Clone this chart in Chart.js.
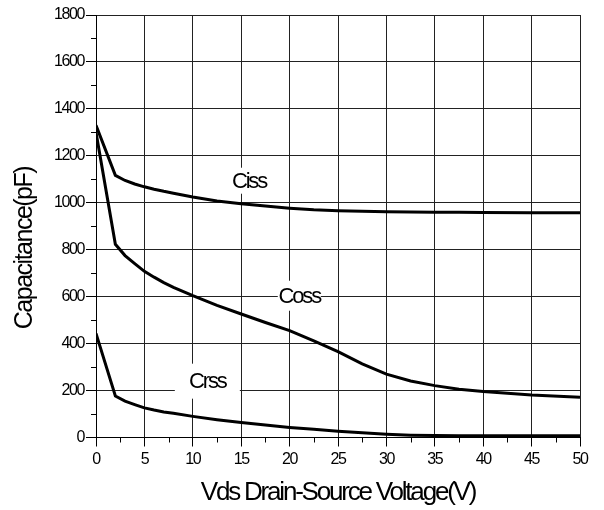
<!DOCTYPE html>
<html>
<head>
<meta charset="utf-8">
<script src="https://cdn.jsdelivr.net/npm/chart.js@4"></script>
<style>
  html, body { margin: 0; padding: 0; background: #fff; }
  #wrap { width: 604px; height: 510px; }
</style>
</head>
<body>
<div id="wrap"><canvas id="grafico" width="604" height="510"></canvas></div>
<script>
// Vds (V) e capacitancias
const voltagem = [0, 2, 3, 4, 5, 6, 7, 8, 10, 12.5, 15, 17.5, 20, 22.5, 25, 27.5, 30, 32.5, 35, 37.5, 40, 45, 50];
const ciss = [1330, 1117, 1095, 1080, 1068, 1058, 1049, 1041, 1025, 1008, 996, 986, 977, 970, 966, 964, 962, 961, 960, 960, 959, 958, 958];
const coss = [1300, 823, 775, 741, 708, 683, 660, 640, 604, 563, 526, 490, 455, 412, 366, 314, 270, 241, 221, 206, 196, 181, 171];
const crss = [443, 177, 155, 140, 126, 117, 109, 103, 90, 76, 64, 53, 43, 35, 27, 20, 14, 10, 8, 7, 7, 7, 7];

const nomesCurvas = ['Ciss', 'Coss', 'Crss'];
// posicao dos rotulos em unidades do grafico (V, pF)
const rotulos = [
  { texto: 'Ciss', v: 15.8, c: 1094, w: 42, h: 26 },
  { texto: 'Coss', v: 21.0, c: 604, w: 43, h: 30 },
  { texto: 'Crss', v: 11.5, c: 240, w: 65, h: 35 }
];

const fonte = "'Liberation Sans', Arial, sans-serif";

const pontos = serie => voltagem.map((v, i) => ({ x: v, y: serie[i] }));

// espacamento apertado das letras, como no original
const espacamento = { x: { titulo: '-2.2px', ticks: '-1.4px' }, y: { titulo: '-1.5px', ticks: '-1.4px' } };

const pluginTexto = {
  id: 'texto',
  beforeDraw(chart) {
    Object.values(chart.scales).forEach(s => {
      if (s._apertado) return;
      s._apertado = true;
      const esp = espacamento[s.id];
      const t = s.drawTitle, l = s.drawLabels;
      s.drawTitle = function () { this.ctx.letterSpacing = esp.titulo; t.call(this); this.ctx.letterSpacing = '0px'; };
      s.drawLabels = function (a) { this.ctx.letterSpacing = esp.ticks; l.call(this, a); this.ctx.letterSpacing = '0px'; };
    });
  },
  beforeDatasetsDraw(chart) {
    // rotulos das curvas com fundo branco por cima da grade
    const ctx = chart.ctx, x = chart.scales.x, y = chart.scales.y;
    ctx.save();
    ctx.font = '22px ' + fonte;
    ctx.letterSpacing = '-2.2px';
    ctx.textAlign = 'center';
    ctx.textBaseline = 'middle';
    rotulos.forEach(r => {
      const px = x.getPixelForValue(r.v), py = y.getPixelForValue(r.c);
      ctx.fillStyle = '#fff';
      ctx.fillRect(px - r.w / 2, py - r.h / 2, r.w, r.h);
      ctx.fillStyle = '#000';
      ctx.fillText(r.texto, px, py + 1);
    });
    ctx.restore();
  },
  afterDraw(chart) {
    // ticks menores
    const ctx = chart.ctx, x = chart.scales.x, y = chart.scales.y;
    ctx.save();
    ctx.strokeStyle = '#000';
    ctx.lineWidth = 1;
    ctx.beginPath();
    for (let v = 2.5; v < 50; v += 5) {
      const px = Math.round(x.getPixelForValue(v)) + 0.5;
      ctx.moveTo(px, y.bottom);
      ctx.lineTo(px, y.bottom + 5);
    }
    for (let c = 100; c < 1800; c += 200) {
      const py = Math.round(y.getPixelForValue(c)) + 0.5;
      ctx.moveTo(x.left - 5, py);
      ctx.lineTo(x.left, py);
    }
    ctx.stroke();
    ctx.restore();
  }
};

const grade = { color: '#222', lineWidth: 1, tickColor: '#000' };

new Chart(document.getElementById('grafico'), {
  type: 'line',
  data: {
    datasets: [ciss, coss, crss].map((serie, i) => ({
      label: nomesCurvas[i],
      data: pontos(serie),
      borderColor: '#000',
      borderWidth: 3,
      pointRadius: 0,
      tension: 0,
      fill: false
    }))
  },
  options: {
    responsive: false,
    animation: false,
    layout: { padding: { top: 15, right: 24, bottom: 0, left: 0 } },
    plugins: { legend: { display: false }, tooltip: { enabled: false } },
    scales: {
      x: {
        type: 'linear',
        min: 0,
        max: 50,
        ticks: { stepSize: 5, color: '#000', padding: 3, maxRotation: 0, callback: v => String(v), font: { family: fonte, size: 16 } },
        grid: { ...grade, tickLength: 9 },
        border: { color: '#000', width: 1 },
        title: { display: true, text: 'Vds Drain-Source Voltage(V)', color: '#000', padding: { top: 0, bottom: 2 }, font: { family: fonte, size: 26 } },
        afterFit: s => { s.height = 72.5; }
      },
      y: {
        min: 0,
        max: 1800,
        ticks: { stepSize: 200, color: '#000', padding: 2, callback: v => String(v), font: { family: fonte, size: 16 } },
        grid: { ...grade, tickLength: 10 },
        border: { color: '#000', width: 1 },
        title: { display: true, text: 'Capacitance(pF)        ', color: '#000', padding: { top: 10, bottom: 0 }, font: { family: fonte, size: 25 } },
        afterFit: s => { s.width = 96; }
      }
    }
  },
  plugins: [pluginTexto]
});
</script>
</body>
</html>
